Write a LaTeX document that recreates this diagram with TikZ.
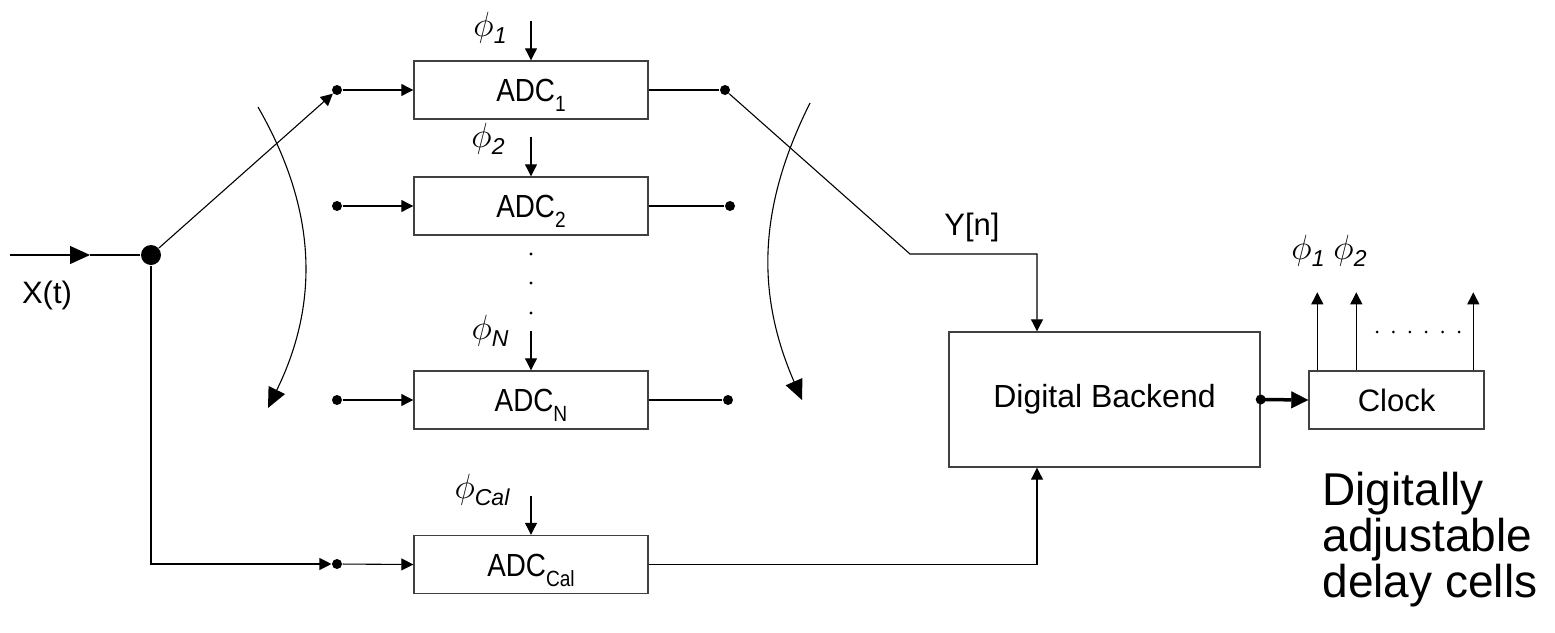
\RequirePackage{fix-cm}
\documentclass[tikz,border=0pt]{standalone}
\usepackage{fontspec}
\setmainfont{Liberation Sans}
\newfontfamily\condsans[FakeStretch=0.87]{Liberation Sans}
\usetikzlibrary{arrows.meta}

% clock phase label: phi with an italic subscript
\newcommand{\phlab}[1]{{\fontsize{35}{40}\selectfont$\phi$}\raisebox{-7pt}{\fontsize{23}{26}\selectfont\itshape #1}}
% converter label with subscript
\newcommand{\adclab}[1]{ADC\raisebox{-10pt}{\fontsize{22}{24}\selectfont #1}}

\begin{document}
\begin{tikzpicture}[x=1pt,y=-1pt,
  >={Triangle[length=12pt,width=12pt]},
  line width=1.1pt,
  every node/.style={inner sep=0pt},
  blk/.style={draw=black!75, line width=1.4pt, minimum width=234pt, minimum height=58pt,
              text height=23pt, text depth=0pt, font=\condsans\fontsize{32}{36}\selectfont},
  sdot/.style={circle, fill, minimum size=10pt},
  bdot/.style={circle, fill, minimum size=20pt},
  lab/.style={font=\fontsize{31}{36}\selectfont},
  bigtip/.style={-{Triangle[length=20pt,width=18pt]}},
]
\useasboundingbox (0,0) rectangle (1555,632);

% input and fork point
\coordinate (xin) at (10,255);
\coordinate (xmid) at (90,255);
\node[bdot] (fork) at (151,255) {};
\node[lab] (xt) at (47,295) {X(t)};

% time-interleaved converters
\node[blk] (adc1) at (531,90) {\adclab{1}};
\node[blk] (adc2) at (531,206) {\adclab{2}};
\node[blk] (adcn) at (531,400) {\adclab{N}};
\node[blk] (adccal) at (531,564.5) {\adclab{Cal}};

% switch terminals
\node[sdot] (i1) at (337,90) {};
\node[sdot] (o1) at (725,90) {};
\node[sdot] (i2) at (337,206) {};
\node[sdot] (o2) at (730,206) {};
\node[sdot] (in) at (337,400) {};
\node[sdot] (on) at (728,400) {};
\node[sdot] (ical) at (337,564) {};

% clock phase labels
\node (p1) at (490,28) {\phlab{1}};
\node (p2) at (488,139) {\phlab{2}};
\node (pn) at (490,331) {\phlab{N}};
\node (pcal) at (482,490) {\phlab{Cal}};

% clock phase arrows
\draw[->] ([yshift=39pt]adc1.north) -- (adc1.north);
\draw[->] ([yshift=39pt]adc2.north) -- (adc2.north);
\draw[->] ([yshift=39pt]adcn.north) -- (adcn.north);
\draw[->] ([yshift=39pt]adccal.north) -- (adccal.north);

% ellipsis between channels
\foreach \yy in {254,283,313} \fill (531,\yy) circle (1.6pt);

% back end and clock generator
\node[draw=black!75, line width=1.4pt, minimum width=311pt, minimum height=135pt,
      font=\fontsize{32}{36}\selectfont] (db) at (1104.5,399.5) {Digital Backend};
\node[draw=black!75, line width=1.4pt, minimum width=175pt, minimum height=58pt,
      font=\fontsize{31}{36}\selectfont] (clk) at (1396.5,400) {Clock};
\node[sdot] (dbo) at (db.east) {};

% input wiring
\draw[bigtip] (xin) -- (xmid);
\draw (xmid) -- (fork);
\draw[->] (fork) -- (i1);
\draw[->] (fork) |- (ical);
\draw[->] (i1) -- (adc1.west);
\draw[->] (i2) -- (adc2.west);
\draw[->] (in) -- (adcn.west);
\draw[->] (ical) -- (adccal.west);

% output wiring
\draw (adc1.east) -- (o1);
\draw (adc2.east) -- (o2);
\draw (adcn.east) -- (on);
\coordinate (ybend) at (910,254);
\coordinate (ycorner) at (1037,254);
\draw[->] (o1) -- (ybend) -- (ycorner) -- (ycorner |- db.north);
\node[lab] (yn) at (972,227) {Y[n]};
\coordinate (calcorner) at (1037,564.5);
\draw[->] (adccal.east) -- (calcorner) -- (calcorner |- db.south);

% rotating commutator arrows
\coordinate (la) at (258,107);
\coordinate (lb) at (268,408);
\coordinate (ra) at (810,103);
\coordinate (rb) at (802,400);
\draw[bigtip] (la) to[bend left=28] (lb);
\draw[bigtip] (ra) to[bend right=25] (rb);

% backend to clock: heavy control bus
\draw[-{Triangle[length=17pt,width=17pt,line width=0.5pt]}, line width=3.5pt] (dbo.center) -- (clk.west);

% clock outputs
\draw[->] ([xshift=9pt]clk.north west) -- ++(0,-78);
\draw[->] ([xshift=48pt]clk.north west) -- ++(0,-78);
\draw[->] ([xshift=165pt]clk.north west) -- ++(0,-78);
\foreach \i in {0,...,5} \fill (1377+16.4*\i,332) circle (1.5pt);
\node (c1) at (1308,251) {\phlab{1}};
\node (c2) at (1350,251) {\phlab{2}};

% caption of the clock block
\node[font=\fontsize{46}{46}\selectfont, align=left, anchor=north west] (note) at (1322,472)
  {Digitally\\adjustable\\delay cells};
\end{tikzpicture}
\end{document}
